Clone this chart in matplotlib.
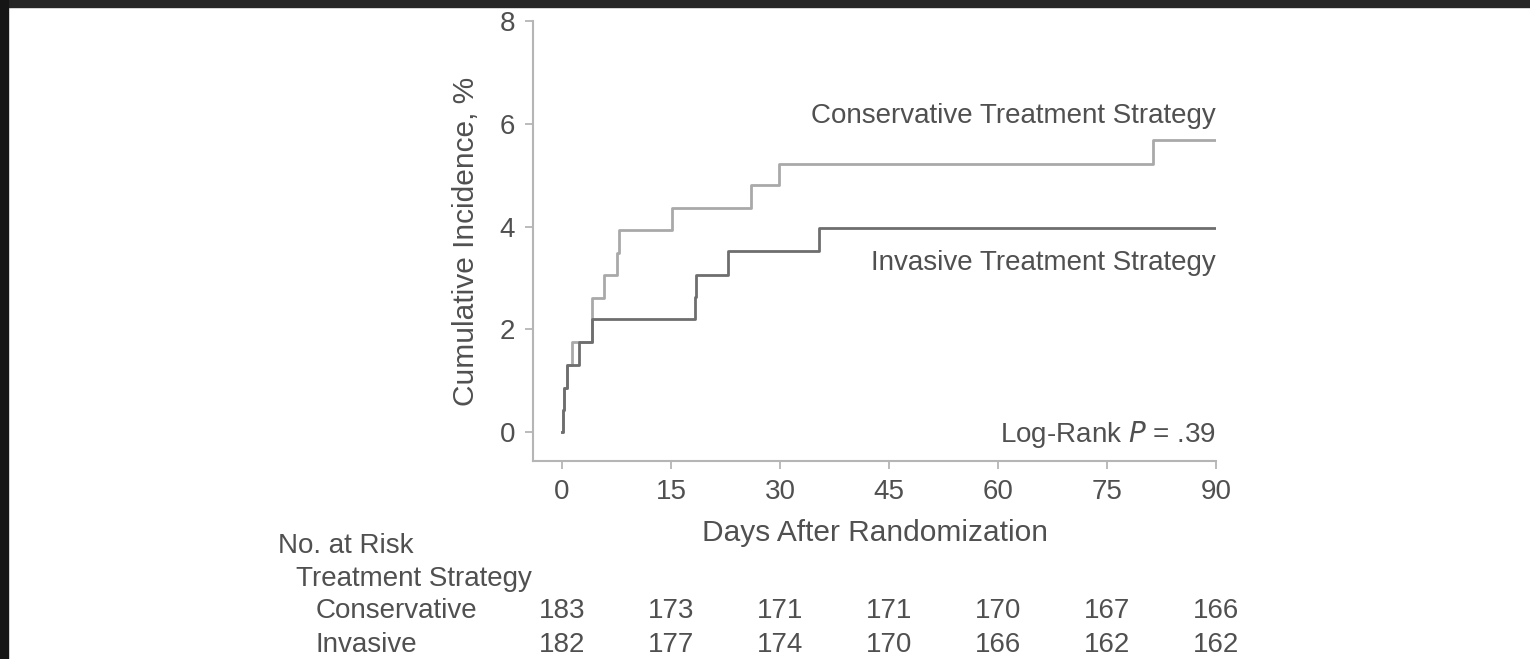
import matplotlib.pyplot as plt
from matplotlib.patches import Rectangle

plt.rcParams['font.family'] = ['Liberation Sans', 'DejaVu Sans']

# Step times (days) and cumulative incidence (%)
cons_days = [0, 0.14, 0.32, 0.69, 1.38, 4.13, 5.75, 7.5, 7.8, 15.1, 26.0, 29.8, 81.3, 90]
cons_pct = [0, 0.43, 0.86, 1.30, 1.76, 2.62, 3.06, 3.48, 3.94, 4.37, 4.81, 5.22, 5.69, 5.69]

inv_days = [0, 0.14, 0.32, 0.69, 2.30, 4.13, 18.3, 18.5, 22.9, 35.3, 90]
inv_pct = [0, 0.43, 0.86, 1.30, 1.76, 2.20, 2.64, 3.06, 3.53, 3.97, 3.97]

risk_days = [0, 15, 30, 45, 60, 75, 90]
risk_cons = [183, 173, 171, 171, 170, 167, 166]
risk_inv = [182, 177, 174, 170, 166, 162, 162]

text_col = '#505050'
axis_col = '#b5b5b5'
fs = 20

fig = plt.figure(figsize=(15.3, 6.59), dpi=100)
ax = fig.add_axes([533 / 1530, 1 - 461 / 659, 683 / 1530, 440 / 659])

ax.step(cons_days, cons_pct, where='post', color='#a9a9a9', lw=2.0, zorder=2)
ax.step(inv_days, inv_pct, where='post', color='#6e6e6e', lw=2.0, zorder=3)

ax.set_xlim(-4, 90)
ax.set_ylim(-0.56, 8)
ax.set_xticks(risk_days)
ax.set_yticks([0, 2, 4, 6, 8])
for s in ['top', 'right']:
    ax.spines[s].set_visible(False)
for s in ['left', 'bottom']:
    ax.spines[s].set_color(axis_col)
    ax.spines[s].set_linewidth(1.5)
ax.tick_params(colors=axis_col, labelcolor=text_col, labelsize=fs, length=6, width=1.3, pad=7)

ax.set_xlabel('Days After Randomization', fontsize=21.5, color=text_col, labelpad=10)
ax.set_ylabel('Cumulative Incidence, %', fontsize=21.5, color=text_col, labelpad=14)

ax.text(90, 6.16, 'Conservative Treatment Strategy', ha='right', va='center', fontsize=fs, color=text_col)
ax.text(90, 3.3, 'Invasive Treatment Strategy', ha='right', va='center', fontsize=fs, color=text_col)
ax.text(90, -0.05, 'Log-Rank $\\mathit{P}$ = .39', ha='right', va='center', fontsize=fs, color=text_col)

# number at risk table below the axis
fig.text(278 / 1530, 1 - 546 / 659, 'No. at Risk', ha='left', va='center', fontsize=fs, color=text_col)
fig.text(296 / 1530, 1 - 579 / 659, 'Treatment Strategy', ha='left', va='center', fontsize=fs, color=text_col)
fig.text(316 / 1530, 1 - 611 / 659, 'Conservative', ha='left', va='center', fontsize=fs, color=text_col)
fig.text(316 / 1530, 1 - 645 / 659, 'Invasive', ha='left', va='center', fontsize=fs, color=text_col)
for d, c, i in zip(risk_days, risk_cons, risk_inv):
    x = fig.transFigure.inverted().transform(ax.transData.transform((d, 0)))[0]
    fig.text(x, 1 - 611 / 659, str(c), ha='center', va='center', fontsize=fs, color=text_col)
    fig.text(x, 1 - 645 / 659, str(i), ha='center', va='center', fontsize=fs, color=text_col)

# dark frame edges of the screenshot
fig.patches.append(Rectangle((0, 1 - 7 / 659), 1, 7 / 659, transform=fig.transFigure, color='#262626', zorder=0))
fig.patches.append(Rectangle((0, 0), 8 / 1530, 1, transform=fig.transFigure, color='#151515', zorder=0))

fig.savefig('out.png', dpi=100)
